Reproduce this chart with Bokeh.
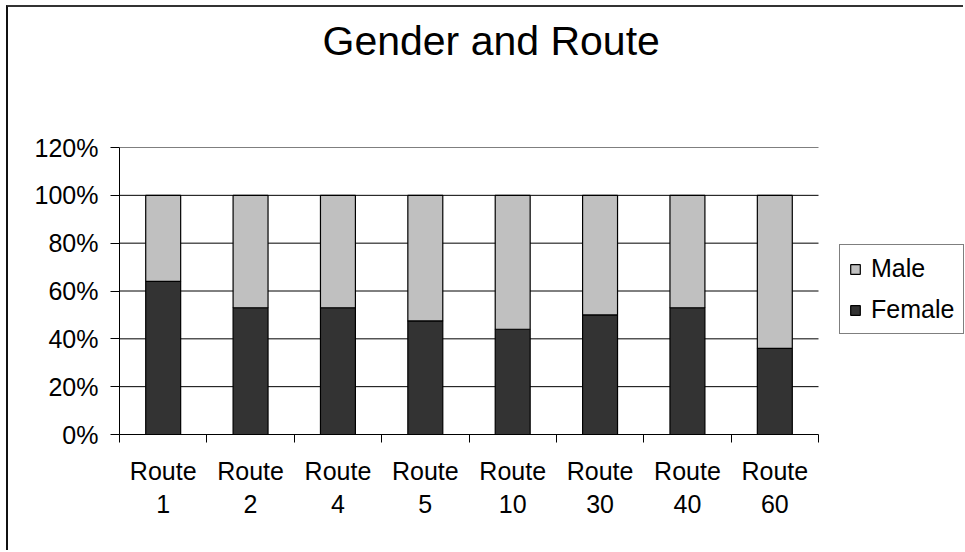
from bokeh.plotting import figure
from bokeh.models import (ColumnDataSource, Range1d, FixedTicker, NumeralTickFormatter,
                          Legend, LegendItem, Title)
from bokeh.embed import file_html
from bokeh.resources import INLINE

routes = ["Route 1", "Route 2", "Route 4", "Route 5", "Route 10", "Route 30", "Route 40", "Route 60"]
female = [0.64, 0.53, 0.53, 0.475, 0.44, 0.50, 0.53, 0.36]
male = [round(1 - f, 3) for f in female]
y_ticks = [0, 0.2, 0.4, 0.6, 0.8, 1.0, 1.2]
title_text = "Gender and Route"

FONT = "Liberation Sans"
DARK = "#333333"
LIGHT = "#C0C0C0"

n = len(routes)
# category slots: slot i spans [i, i+1], bar centred in the slot
pos = [i + 0.5 for i in range(n)]
bounds = list(range(n + 1))

source = ColumnDataSource(dict(pos=pos, route=routes, Female=female, Male=male))
grid_src = ColumnDataSource(dict(y=y_ticks[1:], x0=[0] * (len(y_ticks) - 1), x1=[n] * (len(y_ticks) - 1)))

W, H = 957, 545
LEFT, PLOT_W, FRAME_W = 111, 699, 846   # category area is PLOT_W wide; frame also holds the legend
p = figure(x_range=Range1d(0, n * FRAME_W / PLOT_W), y_range=Range1d(0, 1.2),
           width=W, height=H, output_backend="svg", toolbar_location=None, title=None,
           x_axis_location="below", y_axis_location="left",
           min_border_left=LEFT, min_border_right=0, min_border_top=140, min_border_bottom=118)
p.styles = {"margin-left": "6px", "margin-top": "5px",
            "border-left": "2px solid #111", "border-top": "2px solid #333"}

xax = p.below[0]
yax = p.left[0]

# empty band between the title and the plot area, then the title
spacer = Title(text=" ", text_font=FONT, text_font_size="10px", text_color="white", standoff=66)
p.add_layout(spacer, "above")
title = Title(text=title_text, text_font=FONT, text_font_size="41px", text_font_style="normal",
              text_color="black", align="left", offset=203)
p.add_layout(title, "above")

p.outline_line_color = None
p.xgrid.grid_line_color = None
p.ygrid.grid_line_color = None
p.segment(x0="x0", x1="x1", y0="y", y1="y", source=grid_src, line_color="black", line_width=1)

yax.ticker = FixedTicker(ticks=y_ticks)
yax.formatter = NumeralTickFormatter(format="0%")
yax.axis_line_color = "black"
yax.major_tick_line_color = "black"
yax.major_tick_out = 9
yax.major_tick_in = 0
yax.minor_tick_line_color = None
yax.major_label_text_font = FONT
yax.major_label_text_font_size = "25px"
yax.major_label_text_color = "black"
yax.major_label_standoff = 12

xax.ticker = FixedTicker(ticks=pos, minor_ticks=bounds)
xax.bounds = (0, n)
xax.major_label_overrides = {x: r.replace(" ", "\n") for x, r in zip(pos, routes)}
xax.axis_line_color = "black"
xax.major_tick_line_color = None
xax.major_tick_out = 0
xax.major_tick_in = 0
xax.minor_tick_line_color = "black"
xax.minor_tick_out = 8
xax.minor_tick_in = 0
xax.major_label_text_font = FONT
xax.major_label_text_font_size = "25px"
xax.major_label_text_color = "black"
xax.major_label_standoff = 14

rs = p.vbar_stack(["Female", "Male"], x="pos", width=0.4, source=source,
                  fill_color=[DARK, LIGHT], line_color="black", line_width=1.2)

legend = Legend(items=[LegendItem(label="Male", renderers=[rs[1]]),
                       LegendItem(label="Female", renderers=[rs[0]])],
                location=(PLOT_W + 21, 100))
legend.label_text_font = FONT
legend.label_text_font_size = "25px"
legend.label_text_color = "black"
legend.border_line_color = "black"
legend.border_line_width = 1
legend.background_fill_color = "white"
legend.background_fill_alpha = 1
legend.glyph_width = 12
legend.glyph_height = 12
legend.label_standoff = 10
legend.padding = 9
legend.spacing = 12
legend.margin = 0
p.add_layout(legend, "center")

open("out.html", "w").write(file_html(p, INLINE))
